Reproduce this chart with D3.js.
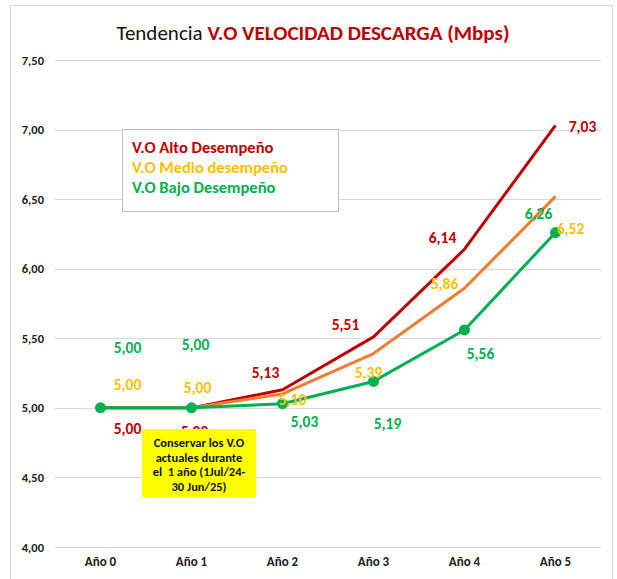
<!DOCTYPE html>
<html>
<head>
<meta charset="utf-8">
<script src="https://cdn.jsdelivr.net/npm/d3@7"></script>
<style>
  body { margin: 0; background: #fff; }
  svg { font-family: Calibri, Carlito, Lato, "Open Sans", sans-serif; }
</style>
</head>
<body>
<svg id="chart" width="617" height="579"></svg>
<script>
// data
const years = ['Año 0', 'Año 1', 'Año 2', 'Año 3', 'Año 4', 'Año 5']
const alto = [5.00, 5.00, 5.13, 5.51, 6.14, 7.03]
const medio = [5.00, 5.00, 5.10, 5.39, 5.86, 6.52]
const bajo = [5.00, 5.00, 5.03, 5.19, 5.56, 6.26]
const yTicks = [4.0, 4.5, 5.0, 5.5, 6.0, 6.5, 7.0, 7.5]
const legendNames = ['V.O Alto Desempeño', 'V.O Medio desempeño', 'V.O Bajo Desempeño']
const noteLines = ['Conservar los V.O', 'actuales durante', 'el  1 año (1Jul/24-', '30 Jun/25)']

// label offsets from each point (placement only)
const altoOff = [[27, 21], [3, 24], [-17, -17], [-28, -12], [-22, -12], [27, 1]]
const medioOff = [[27, -23], [6, -20], [10, 6], [-5, 19], [-20, -5], [15, 32]]
const bajoOff = [[27, -60], [4, -63], [22, 18], [14, 42], [16, 24], [-17, -19]]

const RED = '#C00000'
const ORANGE = '#ED7D31'
const YELLOW = '#FFC000'
const GREEN = '#00B050'

const svg = d3.select('#chart')

const locale = d3.formatLocale({ decimal: ',', thousands: '.', grouping: [3], currency: ['', ''] })
const fmt = locale.format('.2f')

// frame
svg.append('rect')
    .attr('x', 10.5)
    .attr('y', 5.5)
    .attr('width', 602)
    .attr('height', 590)
    .attr('fill', '#fff')
    .attr('stroke', '#D9D9D9')

const x = d3.scaleBand()
    .domain(years)
    .range([55, 601])

const cx = d => x(d) + x.bandwidth() / 2

const y = d3.scaleLinear()
    .domain([4, 7.5])
    .range([547, 60])

// grid
svg.append('g')
    .selectAll('line')
    .data(yTicks)
    .join('line')
    .attr('x1', 55)
    .attr('x2', 601)
    .attr('y1', d => Math.round(y(d)) + 0.5)
    .attr('y2', d => Math.round(y(d)) + 0.5)
    .attr('stroke', '#D9D9D9')
    .attr('stroke-width', 1)

// axes
const yAxis = svg.append('g')
    .attr('transform', 'translate(44,0)')
    .call(d3.axisLeft(y).tickValues(yTicks).tickFormat(fmt).tickSize(0).tickPadding(0))

yAxis.select('.domain').remove()
yAxis.selectAll('text')
    .attr('font-family', 'Calibri, Carlito, Lato, sans-serif')
    .attr('font-size', 12.5)
    .attr('font-weight', 'bold')
    .attr('fill', '#222')

const xAxis = svg.append('g')
    .attr('transform', 'translate(0,557)')
    .call(d3.axisBottom(x).tickSize(0).tickPadding(0))

xAxis.select('.domain').remove()
xAxis.selectAll('text')
    .attr('font-family', 'Calibri, Carlito, Lato, sans-serif')
    .attr('font-size', 13)
    .attr('font-weight', 'bold')
    .attr('fill', '#222')

// title
const title = svg.append('text')
    .attr('x', 313)
    .attr('y', 40)
    .attr('text-anchor', 'middle')
    .attr('font-size', 21)

title.append('tspan')
    .attr('fill', '#111')
    .text('Tendencia ')

title.append('tspan')
    .attr('fill', RED)
    .attr('font-weight', 'bold')
    .text('V.O VELOCIDAD DESCARGA (Mbps)')

// lines
const line = d3.line()
    .x((d, i) => cx(years[i]))
    .y(d => y(d))

const series = [
  { values: alto, stroke: RED, label: RED, off: altoOff },
  { values: medio, stroke: ORANGE, label: YELLOW, off: medioOff },
  { values: bajo, stroke: GREEN, label: GREEN, off: bajoOff },
]

series.forEach(s => {
  svg.append('path')
      .datum(s.values)
      .attr('d', line)
      .attr('fill', 'none')
      .attr('stroke', s.stroke)
      .attr('stroke-width', 3)
      .attr('stroke-linejoin', 'round')
})

svg.append('g')
    .selectAll('circle')
    .data(bajo)
    .join('circle')
    .attr('cx', (d, i) => cx(years[i]))
    .attr('cy', d => y(d))
    .attr('r', 5.5)
    .attr('fill', GREEN)

// data labels
series.forEach(s => {
  svg.append('g')
      .selectAll('text')
      .data(s.values)
      .join('text')
      .attr('x', (d, i) => cx(years[i]) + s.off[i][0])
      .attr('y', (d, i) => y(d) + s.off[i][1])
      .attr('dy', '0.35em')
      .attr('text-anchor', 'middle')
      .attr('font-size', 15.5)
      .attr('font-weight', 'bold')
      .attr('fill', s.label)
      .text(d => fmt(d))
})

// legend
const legend = svg.append('g')

legend.append('rect')
    .attr('x', 122.5)
    .attr('y', 129.5)
    .attr('width', 216)
    .attr('height', 82)
    .attr('fill', '#fff')
    .attr('stroke', '#BFBFBF')

legend.selectAll('text')
    .data(legendNames)
    .join('text')
    .attr('x', 132)
    .attr('y', (d, i) => 147 + i * 20)
    .attr('dy', '0.35em')
    .attr('font-size', 16.5)
    .attr('font-weight', 'bold')
    .attr('fill', (d, i) => series[i].label)
    .text(d => d)

// note box
const note = svg.append('g')

note.append('rect')
    .attr('x', 142)
    .attr('y', 429)
    .attr('width', 114)
    .attr('height', 68)
    .attr('fill', '#FFFF00')

note.selectAll('text')
    .data(noteLines)
    .join('text')
    .attr('x', 199)
    .attr('y', (d, i) => 443 + i * 14.5)
    .attr('dy', '0.35em')
    .attr('text-anchor', 'middle')
    .attr('font-size', 12.5)
    .attr('font-weight', 'bold')
    .attr('fill', '#111')
    .attr('xml:space', 'preserve')
    .text(d => d)
</script>
</body>
</html>
